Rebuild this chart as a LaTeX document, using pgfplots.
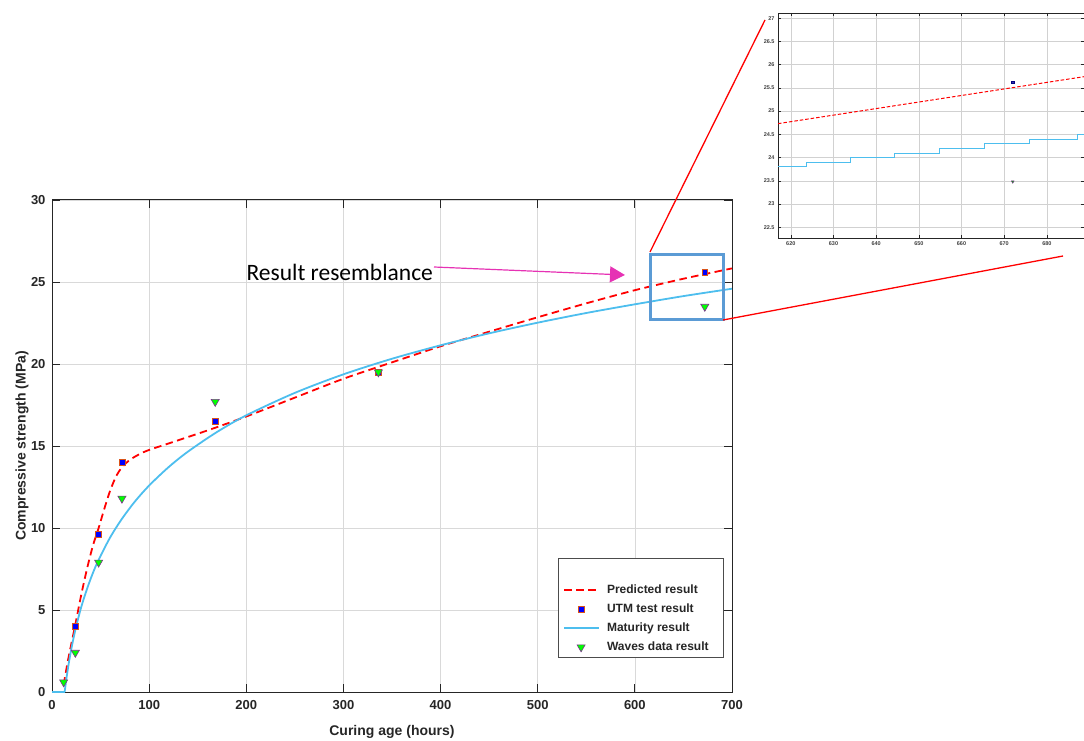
\documentclass[border=0pt]{standalone}
\usepackage{pgfplots}
\pgfplotsset{compat=1.18}
\usepackage{fontspec}
\setmainfont{Liberation Sans}
\newfontfamily\calibri{Carlito}
\usetikzlibrary{arrows.meta}
\definecolor{predred}{RGB}{255,0,0}
\definecolor{matblue}{RGB}{77,190,238}
\definecolor{utmblue}{RGB}{0,0,255}
\definecolor{utmedge}{RGB}{217,83,25}
\definecolor{wavegreen}{RGB}{0,255,0}
\definecolor{waveedge}{RGB}{126,47,142}
\definecolor{boxblue}{RGB}{91,155,213}
\definecolor{arrowmag}{RGB}{230,50,180}
\begin{document}
\begin{tikzpicture}
\path (0pt,0pt) rectangle (1084pt,740pt);
\begin{axis}[
  at={(52pt,48pt)}, anchor=south west, width=680pt, height=492pt, scale only axis,
  xmin=0, xmax=700, ymin=0, ymax=30,
  xtick={0,100,...,700}, ytick={0,5,...,30},
  grid=major, grid style={black!15, line width=0.6pt},
  tick align=inside, major tick length=8pt,
  axis line style={line width=1pt, black!85},
  tick style={black!85, line width=0.8pt},
  /pgf/number format/assume math mode=true,
  ticklabel style={font=\fontsize{13}{13}\selectfont\bfseries, text=black!85},
  xticklabel style={yshift=-5pt},
  yticklabel style={xshift=-3pt},
  xlabel={Curing age (hours)}, ylabel={Compressive strength (MPa)},
  label style={font=\fontsize{14}{14}\selectfont\bfseries, text=black!85},
  xlabel style={at={(axis description cs:0.5,-0.0813)}, anchor=center},
  ylabel style={at={(axis description cs:-0.044,0.5)}, anchor=center},
  legend image code/.code={\draw[mark repeat=2,mark phase=2] plot coordinates {(0cm,0cm) (0.6cm,0cm) (1.2cm,0cm)};},
  legend style={at={(axis description cs:0.744,0.272)}, anchor=north west,
    draw=black!70, fill=white,
    font=\fontsize{12}{12}\selectfont\bfseries, text=black!85,
    row sep=4.9pt, inner xsep=5pt, inner ysep=3pt, cells={anchor=west},
    /tikz/every odd column/.append style={column sep=6pt}},
]
\addlegendimage{empty legend}
\addlegendentry{\rule{0pt}{11pt}}
\addplot[predred, line width=1.8pt, dash pattern=on 7.5pt off 4.5pt, smooth, tension=0.45] coordinates {
(12,0.45) (17,2.1) (24,4.1) (30,5.9) (36,7.5) (42,8.9) (48,10.0) (54,11.2) (60,12.3) (66,13.15) (72,13.7)
(80,14.15) (90,14.5) (100,14.76) (130,15.35) (165,16.05) (200,16.8) (250,17.95) (300,19.1) (350,20.1)
(400,21.08) (450,21.97) (500,22.85) (550,23.7) (600,24.5) (650,25.2) (700,25.83)};
\addlegendentry{Predicted result}
\addplot[only marks, mark=square*, mark size=2.9pt, mark options={fill=utmblue, draw=utmedge, line width=0.6pt}] coordinates {
(24,4.0) (48,9.6) (72,14.0) (168,16.5) (336,19.5) (672,25.6)};
\addlegendentry{UTM test result}
\addplot[matblue, line width=1.8pt, forget plot] coordinates {(0,0) (13,0)};
\addplot[matblue, line width=1.8pt, smooth, tension=0.5] coordinates {
(13,0) (15,0.88) (17,1.66) (20,2.66) (24,3.78) (30,5.16) (36,6.28) (42,7.24) (48,8.06) (60,9.44) (72,10.56)
(85,11.59) (100,12.59) (120,13.71) (140,14.66) (170,15.86) (200,16.87) (250,18.24) (300,19.37) (350,20.32)
(400,21.14) (450,21.87) (500,22.52) (550,23.11) (600,23.64) (650,24.14) (700,24.59)};
\addlegendentry{Maturity result}
\addplot[only marks, mark=triangle*, mark size=4.7pt, mark options={rotate=180, fill=wavegreen, draw=waveedge, line width=0.6pt}] coordinates {
(12,0.6) (24,2.4) (48,7.9) (72,11.8) (168,17.7) (336,19.5) (672,23.5)};
\addlegendentry{Waves data result\kern8pt}
\end{axis}
\begin{axis}[
  at={(778pt,502pt)}, anchor=south west, width=306pt, height=225pt, scale only axis,
  xmin=617, xmax=688.7, ymin=22.27, ymax=27.11,
  xtick={620,630,...,680}, ytick={22.5,23,...,27},
  grid=major, grid style={black!18, line width=0.5pt},
  tick align=inside, major tick length=3pt,
  axis line style={line width=0.7pt, black!85},
  tick style={black!85, line width=0.4pt},
  /pgf/number format/assume math mode=true,
  ticklabel style={font=\fontsize{5.5}{5.5}\selectfont\bfseries, text=black!75},
]
\addplot[predred, line width=1pt, dash pattern=on 3.5pt off 2pt] coordinates {(617,24.73) (688.7,25.74)};
\addplot[matblue, line width=0.8pt, const plot] coordinates {
(617,23.8) (623.7,23.9) (633.9,24.0) (644.2,24.1) (654.8,24.2) (665.3,24.3) (675.8,24.4) (687.2,24.5) (688.7,24.5)};
\addplot[only marks, mark=square*, mark size=1.3pt, mark options={fill=utmblue!60!black!80, draw=utmblue!50!black}] coordinates {(672,25.62)};
\addplot[only marks, mark=triangle*, mark size=1.6pt, mark options={rotate=180, fill=wavegreen!70!black, draw=waveedge}] coordinates {(672,23.48)};
\end{axis}
\node[anchor=west, font=\calibri\fontsize{23.5}{23.5}\selectfont] at (243pt,468pt) {Result resemblance};
\draw[arrowmag, line width=1.2pt, -{Triangle[length=15pt,width=16pt]}] (434pt,473pt) -- (625pt,465pt);
\draw[boxblue, line width=3pt] (650pt,485pt) rectangle (723pt,420pt);
\draw[predred, line width=1.3pt] (650pt,488pt) -- (765pt,720pt);
\draw[predred, line width=1.3pt] (723pt,420pt) -- (1063pt,484pt);
\pgfresetboundingbox
\useasboundingbox (0pt,0pt) rectangle (1084pt,740pt);
\end{tikzpicture}
\end{document}
